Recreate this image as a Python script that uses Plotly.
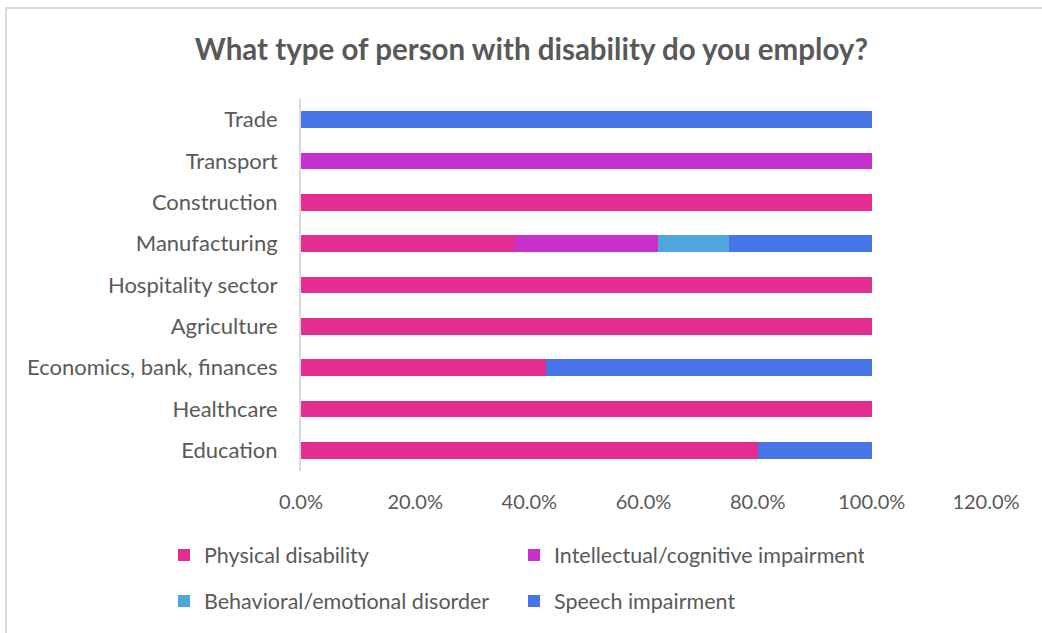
import plotly.graph_objects as go

# Sectors, bottom to top
sectors = ["Education", "Healthcare", "Economics, bank, finances", "Agriculture",
           "Hospitality sector", "Manufacturing", "Construction", "Transport", "Trade"]

physical = [0.80, 1.00, 0.429, 1.00, 1.00, 0.375, 1.00, 0.0, 0.0]
intellectual = [0.0, 0.0, 0.0, 0.0, 0.0, 0.25, 0.0, 1.00, 0.0]
behavioral = [0.0, 0.0, 0.0, 0.0, 0.0, 0.125, 0.0, 0.0, 0.0]
speech = [0.20, 0.0, 0.571, 0.0, 0.0, 0.25, 0.0, 0.0, 1.00]

series = [
    ("Physical disability", physical, "#E32D91", "legend"),
    ("Intellectual/cognitive impairment", intellectual, "#C830CC", "legend"),
    ("Behavioral/emotional disorder", behavioral, "#4EA6DC", "legend2"),
    ("Speech impairment", speech, "#4775E7", "legend2"),
]

W, H = 1042, 633
L, R, T, B = 301, 56, 99, 162
PW, PH = W - L - R, H - T - B

def px_x(p):
    return (p - L) / PW

def px_y(p):
    return (H - B - p) / PH

FONT = "Lato"
TXT = "#595959"

fig = go.Figure()
for name, vals, color, leg in series:
    fig.add_trace(go.Bar(
        y=sectors, x=vals, name=name, orientation="h",
        marker=dict(color=color, line=dict(width=0)),
        legend=leg,
    ))

legend_common = dict(orientation="h", x=px_x(164), xanchor="left", yanchor="middle",
                     entrywidth=305, entrywidthmode="pixels", traceorder="normal",
                     font=dict(size=21.5, color=TXT))

fig.update_layout(
    width=W, height=H,
    margin=dict(l=L, r=R, t=T, b=B, autoexpand=False),
    barmode="stack", bargap=0.6,
    paper_bgcolor="white", plot_bgcolor="white",
    font=dict(family=FONT, color=TXT, size=19),
    title=dict(text="<b>What type of person with disability do you employ?</b>",
               x=0.51, xanchor="center", y=1 - 50 / H, yanchor="middle",
               font=dict(family=FONT, size=29.5, color=TXT)),
    xaxis=dict(range=[0, 1.2], dtick=0.2, tickformat=".1%", showgrid=False,
               zeroline=False, showline=False, ticks="",
               ticklabelstandoff=17, tickfont=dict(size=20, color=TXT)),
    yaxis=dict(showgrid=False, zeroline=False, showline=True, linecolor="#D9D9D9",
               linewidth=2, ticks="", ticklabelstandoff=17,
               tickfont=dict(size=22, color=TXT)),
    legend=dict(legend_common, y=px_y(555)),
    legend2=dict(legend_common, y=px_y(601)),
    shapes=[dict(type="rect", xref="paper", yref="paper",
                 x0=px_x(6), x1=px_x(1050), y0=px_y(640), y1=px_y(8),
                 line=dict(color="#D9D9D9", width=2), fillcolor="rgba(0,0,0,0)",
                 layer="below")],
)

fig.write_html("out.html")
